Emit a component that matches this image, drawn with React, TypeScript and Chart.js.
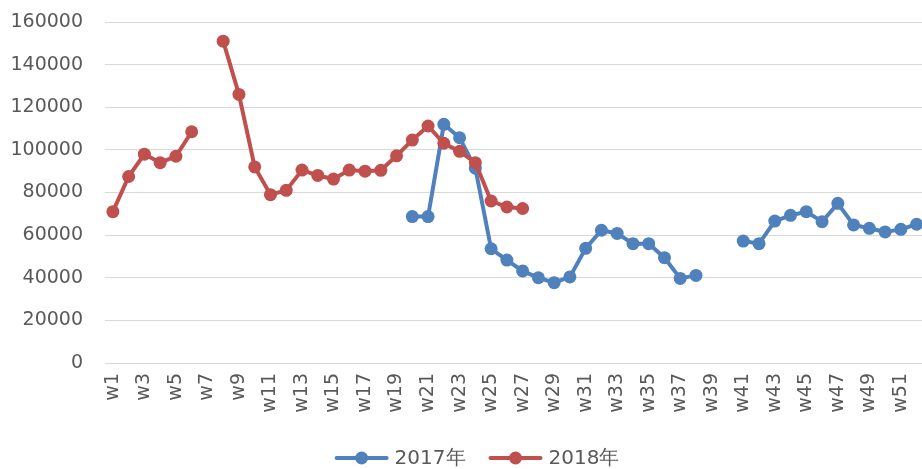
import React, { useEffect, useRef } from "react";
import { Chart, registerables } from "chart.js";

Chart.register(...registerables);

const weekLabels = [
  "w1", "w2", "w3", "w4", "w5", "w6", "w7", "w8", "w9", "w10",
  "w11", "w12", "w13", "w14", "w15", "w16", "w17", "w18", "w19", "w20",
  "w21", "w22", "w23", "w24", "w25", "w26", "w27", "w28", "w29", "w30",
  "w31", "w32", "w33", "w34", "w35", "w36", "w37", "w38", "w39", "w40",
  "w41", "w42", "w43", "w44", "w45", "w46", "w47", "w48", "w49", "w50",
  "w51", "w52",
];

const seriesNames = ["2017年", "2018年"];

const values2017 = [
  null, null, null, null, null, null, null, null, null, null,
  null, null, null, null, null, null, null, null, null, 68700,
  68700, 112000, 105700, 91400, 53600, 48300, 43200, 40000, 37700, 40400,
  53800, 62300, 60800, 56000, 56000, 49400, 39700, 41100, null, null,
  57200, 56000, 66600, 69300, 71000, 66300, 74900, 64800, 63200, 61500,
  62700, 65100,
];

const values2018 = [
  71000, 87500, 98000, 94000, 97000, 108500, null, 151000, 126000, 92000,
  79000, 81000, 90500, 88000, 86300, 90500, 90000, 90400, 97200, 104600,
  111200, 103100, 99300, 94000, 76000, 73200, 72500, null, null, null,
  null, null, null, null, null, null, null, null, null, null,
  null, null, null, null, null, null, null, null, null, null,
  null, null,
];

const yMin = 0;
const yMax = 160000;
const yStep = 20000;

const FONT = '"DejaVu Sans", sans-serif';
const TEXT_COLOR = "#595959";
const GRID_COLOR = "#d9d9d9";
const COLORS = ["#4f81bd", "#c0504d"];

const lineLegend = {
  id: "lineLegend",
  afterDraw(chart: any) {
    const ctx = chart.ctx as CanvasRenderingContext2D;
    const datasets = chart.data.datasets;
    ctx.save();
    ctx.font = `20px ${FONT}`;
    ctx.textBaseline = "middle";
    const lineW = 54;
    const textGap = 6;
    const itemGap = 23;
    const widths = datasets.map(
      (d: any) => lineW + textGap + ctx.measureText(d.label).width
    );
    const total =
      widths.reduce((a: number, b: number) => a + b, 0) +
      itemGap * (datasets.length - 1);
    const cx = 477;
    const cy = 458;
    let x = cx - total / 2;
    datasets.forEach((d: any, i: number) => {
      ctx.strokeStyle = d.borderColor;
      ctx.lineWidth = 4;
      ctx.lineCap = "round";
      ctx.beginPath();
      ctx.moveTo(x + 2, cy);
      ctx.lineTo(x + lineW - 2, cy);
      ctx.stroke();
      ctx.fillStyle = d.borderColor;
      ctx.beginPath();
      ctx.arc(x + lineW / 2, cy, 6.5, 0, Math.PI * 2);
      ctx.fill();
      ctx.fillStyle = TEXT_COLOR;
      ctx.textAlign = "left";
      ctx.fillText(d.label, x + lineW + textGap, cy + 1);
      x += widths[i] + itemGap;
    });
    ctx.restore();
  },
};

export default function App() {
  const canvasRef = useRef<HTMLCanvasElement>(null);

  useEffect(() => {
    const canvas = canvasRef.current;
    if (!canvas) return;
    const mk = (label: string, data: (number | null)[], color: string, order: number) => ({
      label,
      data,
      borderColor: color,
      backgroundColor: color,
      borderWidth: 4,
      pointRadius: 6.5,
      pointBackgroundColor: color,
      pointBorderColor: color,
      pointBorderWidth: 0,
      spanGaps: false,
      tension: 0,
      order,
    });
    const chart = new Chart(canvas, {
      type: "line",
      data: {
        labels: weekLabels,
        datasets: [
          mk(seriesNames[0], values2017, COLORS[0], 2),
          mk(seriesNames[1], values2018, COLORS[1], 1),
        ],
      },
      options: {
        animation: false,
        responsive: true,
        maintainAspectRatio: false,
        layout: { padding: { left: 0, right: 0, top: 22, bottom: 0 } },
        plugins: {
          legend: { display: false },
          tooltip: { enabled: false },
        },
        scales: {
          x: {
            offset: true,
            grid: { display: false, drawTicks: false },
            border: { display: false },
            ticks: {
              autoSkip: false,
              maxRotation: 90,
              minRotation: 90,
              padding: 10,
              color: TEXT_COLOR,
              font: { family: FONT, size: 19 },
              callback: (_v: any, i: number) => (i % 2 === 0 ? weekLabels[i] : ""),
            },
            afterFit: (s: any) => {
              s.height = 106;
              s.paddingRight = 0;
              s.paddingLeft = 0;
            },
          },
          y: {
            min: yMin,
            max: yMax,
            ticks: {
              stepSize: yStep,
              padding: 22,
              color: TEXT_COLOR,
              font: { family: FONT, size: 19 },
              callback: (v: any) => String(v),
            },
            grid: { color: GRID_COLOR, lineWidth: 1, drawTicks: false },
            border: { display: false },
            afterFit: (s: any) => {
              s.width = 105;
              s.paddingTop = 0;
              s.paddingBottom = 0;
            },
          },
        },
      },
      plugins: [lineLegend],
    });
    return () => chart.destroy();
  }, []);

  return (
    <div
      style={{
        position: "absolute",
        left: 0,
        top: 0,
        width: 922,
        height: 469,
        overflow: "hidden",
        background: "#fff",
      }}
    >
      <div style={{ position: "relative", width: 931, height: 469 }}>
        <canvas ref={canvasRef} />
      </div>
    </div>
  );
}
